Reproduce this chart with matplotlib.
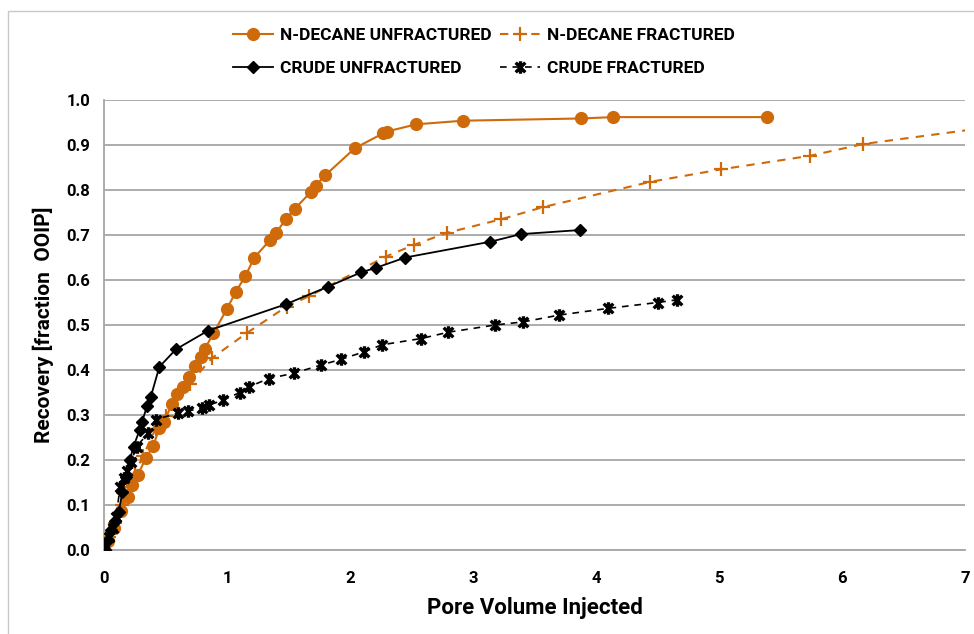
import numpy as np
import matplotlib.pyplot as plt
from matplotlib.path import Path
from matplotlib.patches import Rectangle

# Recovery curves: pore volume injected vs recovery (fraction OOIP)
decane_unfrac_pv = [0, 0.03, 0.08, 0.14, 0.195, 0.23, 0.275, 0.34, 0.40, 0.45, 0.49,
                    0.55, 0.59, 0.64, 0.69, 0.74, 0.79, 0.82, 0.89, 1.0, 1.07, 1.15,
                    1.22, 1.35, 1.40, 1.48, 1.55, 1.68, 1.72, 1.80, 2.04, 2.27, 2.30,
                    2.54, 2.92, 3.88, 4.14, 5.39]
decane_unfrac_rec = [0, 0.02, 0.05, 0.087, 0.118, 0.144, 0.167, 0.204, 0.231, 0.271, 0.285,
                     0.324, 0.347, 0.362, 0.384, 0.409, 0.429, 0.447, 0.482, 0.536, 0.573, 0.609,
                     0.649, 0.689, 0.705, 0.736, 0.758, 0.795, 0.81, 0.833, 0.893, 0.926, 0.93,
                     0.946, 0.954, 0.959, 0.962, 0.962]

decane_frac_pv = [0, 0.04, 0.09, 0.15, 0.20, 0.25, 0.32, 0.42, 0.50, 0.70, 0.875, 1.16,
                  1.485, 1.667, 2.29, 2.52, 2.79, 3.23, 3.57, 4.44, 5.02, 5.74, 6.17, 7.4]
decane_frac_rec = [0, 0.03, 0.06, 0.10, 0.14, 0.17, 0.21, 0.27, 0.298, 0.37, 0.426, 0.482,
                   0.541, 0.564, 0.652, 0.678, 0.705, 0.735, 0.762, 0.818, 0.846, 0.876, 0.902, 0.947]

crude_unfrac_pv = [0, 0.03, 0.06, 0.09, 0.12, 0.15, 0.18, 0.21, 0.24, 0.29, 0.31, 0.35,
                   0.38, 0.45, 0.585, 0.843, 1.477, 1.82, 2.09, 2.21, 2.45, 3.14, 3.39, 3.87]
crude_unfrac_rec = [0, 0.022, 0.045, 0.065, 0.085, 0.13, 0.163, 0.2, 0.23, 0.267, 0.285, 0.32,
                    0.34, 0.407, 0.446, 0.487, 0.546, 0.585, 0.617, 0.627, 0.65, 0.685, 0.702, 0.711]

crude_frac_pv = [0, 0.02, 0.04, 0.07, 0.10, 0.13, 0.16, 0.19, 0.22, 0.265, 0.36, 0.42,
                 0.60, 0.68, 0.80, 0.855, 0.965, 1.105, 1.18, 1.34, 1.545, 1.765, 1.93,
                 2.11, 2.26, 2.58, 2.80, 3.18, 3.41, 3.70, 4.10, 4.50, 4.66]
crude_frac_rec = [0, 0.01, 0.03, 0.05, 0.074, 0.14, 0.16, 0.175, 0.196, 0.23, 0.26, 0.29,
                  0.304, 0.309, 0.315, 0.322, 0.333, 0.35, 0.363, 0.381, 0.393, 0.411, 0.424,
                  0.44, 0.456, 0.47, 0.484, 0.50, 0.507, 0.522, 0.537, 0.55, 0.556]

x_ticks = [0, 1, 2, 3, 4, 5, 6, 7]
y_ticks = [0.0, 0.1, 0.2, 0.3, 0.4, 0.5, 0.6, 0.7, 0.8, 0.9, 1.0]

orange = '#CF6A0B'
grid_grey = '#A6A6A6'

plt.rcParams['font.family'] = ['Roboto', 'DejaVu Sans']
plt.rcParams['font.weight'] = 'bold'

# asterisk marker: an X with a vertical stroke through it
star_path = Path([(-1, -1), (1, 1), (-1, 1), (1, -1), (0, -1.3), (0, 1.3)],
                 [Path.MOVETO, Path.LINETO, Path.MOVETO, Path.LINETO, Path.MOVETO, Path.LINETO])

fig = plt.figure(figsize=(9.74, 6.34), dpi=100)
ax = fig.add_axes([104 / 974, 1 - 550 / 634, 861 / 974, 450 / 634])

# chart border
fig.patches.append(Rectangle((8 / 974, -0.5), 2, 0.5 + 1 - 11 / 634, transform=fig.transFigure,
                             fill=False, edgecolor='#C8C8C8', lw=1, zorder=0))

l1, = ax.plot(decane_unfrac_pv, decane_unfrac_rec, color=orange, lw=1.5, marker='o', ms=8.5,
              label='N-DECANE UNFRACTURED', zorder=3)
l2, = ax.plot(decane_frac_pv, decane_frac_rec, color=orange, lw=1.5, ls=(0, (4, 3.5)), marker='+',
              ms=10, mew=1.6, label='N-DECANE FRACTURED', zorder=3)
l3, = ax.plot(crude_unfrac_pv, crude_unfrac_rec, color='black', lw=1.3, marker='D', ms=6.5,
              label='CRUDE UNFRACTURED', zorder=4)
l4, = ax.plot(crude_frac_pv, crude_frac_rec, color='black', lw=1.2, ls=(0, (4, 3.5)), marker=star_path,
              ms=9, mew=2.4, mfc='none', mec='black', label='CRUDE FRACTURED', zorder=4)

ax.set_xlim(0, 7)
ax.set_ylim(0, 1.0)
ax.set_xticks(x_ticks)
ax.set_yticks(y_ticks)
ax.set_yticklabels([f'{v:.1f}' for v in y_ticks])
ax.tick_params(length=0, labelsize=12)
ax.tick_params(axis='x', pad=15)
ax.tick_params(axis='y', pad=10)
for lab in ax.get_xticklabels() + ax.get_yticklabels():
    lab.set_fontweight('bold')

ax.grid(axis='y', color=grid_grey, lw=1.3, zorder=0)
ax.set_axisbelow(True)
for side in ['top', 'right']:
    ax.spines[side].set_visible(False)
ax.spines['left'].set_color(grid_grey)
ax.spines['bottom'].set_color(grid_grey)
ax.spines['left'].set_linewidth(1.3)
ax.spines['bottom'].set_linewidth(1.3)

ax.set_xlabel('Pore Volume Injected', fontsize=16, fontweight='bold', labelpad=8)
ax.set_ylabel('Recovery [fraction  OOIP]', fontsize=15, fontweight='bold', labelpad=9)

# legend filled row by row: n-decane pair on top, crude pair below
fig.legend([l1, l3, l2, l4], [l.get_label() for l in (l1, l3, l2, l4)],
           loc='center', bbox_to_anchor=(0.497, 0.918), ncol=2, frameon=False,
           handlelength=2.3, columnspacing=0.5, labelspacing=1.0,
           handletextpad=0.4, prop={'weight': 'bold', 'size': 12.5})

fig.savefig('out.png', dpi=100)
